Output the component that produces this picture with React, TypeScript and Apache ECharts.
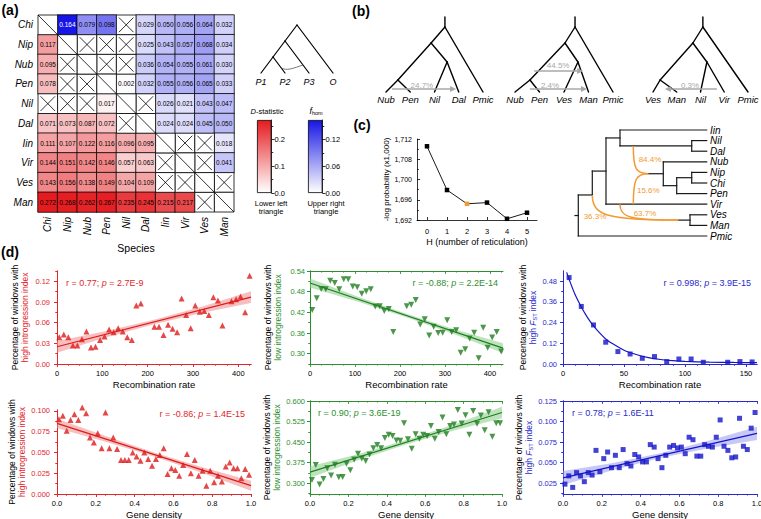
import React, { useEffect, useRef } from 'react';
import * as echarts from 'echarts';

const FONT = '"Liberation Sans", Arial, Helvetica, sans-serif';
const RED = '#e3262b';
const RED_PT = '#dd1a1a';
const GREEN = '#2e8f2e';
const GREEN_PT = '#1f7d1f';
const BLUE = '#2a2acc';
const BLUE_PT = '#1414c8';
const ORANGE = '#f29a33';
const GREY = '#a8a8a8';
const HEAT_RED = '#e51b1f';
const HEAT_BLUE = '#1616e6';

/* ---------------- (a) D-statistic / f_hom matrix ---------------- */
const species = ['Chi', 'Nip', 'Nub', 'Pen', 'Nil', 'Dal', 'Iin', 'Vir', 'Ves', 'Man'];
// rows = species (top to bottom), cols = species (left to right); null = crossed-out cell
const pairValues: (number | null)[][] = [
  [0, 0.164, 0.079, 0.098, null, 0.029, 0.050, 0.056, 0.064, 0.032],
  [0.117, 0, null, null, null, 0.025, 0.043, 0.057, 0.068, 0.034],
  [0.095, null, 0, null, null, 0.036, 0.054, 0.055, 0.061, 0.030],
  [0.078, null, null, 0, 0.002, 0.032, 0.055, 0.056, 0.065, 0.033],
  [null, null, null, 0.017, 0, null, 0.026, 0.021, 0.043, 0.047],
  [0.071, 0.073, 0.087, 0.072, null, 0, 0.024, 0.024, 0.045, 0.050],
  [0.111, 0.107, 0.122, 0.116, 0.096, 0.095, 0, null, null, 0.018],
  [0.144, 0.151, 0.142, 0.146, 0.057, 0.063, null, 0, null, 0.041],
  [0.143, 0.156, 0.138, 0.149, 0.104, 0.109, null, null, 0, null],
  [0.272, 0.268, 0.262, 0.267, 0.235, 0.245, 0.215, 0.217, null, 0],
];
const dStatMax = 0.272;
const fhomMax = 0.164;
const dStatTicks = [0, 0.1, 0.2];
const dStatMinor = [0.05, 0.15, 0.25];
const fhomTicks = [0, 0.06, 0.12];
const fhomMinor = [0.03, 0.09, 0.15];
const quartetLeaves = ['P1', 'P2', 'P3', 'O'];
const quartetTopology: any = [[[0, 1], 2], 3];
const quartetFlow = { from: [0.83, 0.17], to: [1.75, 0.25] };

/* ---------------- (b) species trees with gene flow ---------------- */
const treeLeavesB = [
  ['Nub', 'Pen', 'Nil', 'Dal', 'Pmic'],
  ['Nub', 'Pen', 'Ves', 'Man', 'Pmic'],
  ['Ves', 'Man', 'Nil', 'Vir', 'Pmic'],
];
const treeNodesB = [
  [{ id: 'a', kids: [0, 1], x: 0.49, h: 12 }, { id: 'b', kids: [2, 3], x: 2.52, h: 30 }, { id: 'c', kids: ['a', 'b'], x: 1.86, h: 49 }, { id: 'r', kids: ['c', 4], x: 2.43, h: 65 }],
  [{ id: 'a', kids: [0, 1], x: 0.61, h: 12 }, { id: 'b', kids: [2, 3], x: 2.57, h: 30 }, { id: 'c', kids: ['a', 'b'], x: 2.04, h: 49 }, { id: 'r', kids: ['c', 4], x: 2.45, h: 65 }],
  [{ id: 'a', kids: [0, 1], x: 0.3, h: 12 }, { id: 'b', kids: [2, 3], x: 2.27, h: 30 }, { id: 'c', kids: ['a', 'b'], x: 1.68, h: 49 }, { id: 'r', kids: ['c', 4], x: 2.1, h: 65 }],
];
const treeStemB = 75;
const geneFlowB = [
  [{ from: 0.25, to: 2.89, h: 3, label: '24.7%', lx: 1.48, lh: 7 }],
  [{ from: 0.78, to: 2.78, h: 21, label: '44.5%', lx: 1.76, lh: 27 }, { from: 0.61, to: 2.94, h: 3, label: '2.4%', lx: 1.43, lh: 7 }],
  [{ from: 2.69, to: 0.5, h: 3, label: '0.3%', lx: 1.56, lh: 7 }],
];

/* ---------------- (c) reticulation ---------------- */
const reticulationH = ['0', '1', '2', '3', '4', '5'];
const negLogProb = [1710.2, 1699.4, 1696.0, 1696.3, 1692.3, 1693.8];
const bestH = 2;
const probTickValues = [1692, 1697, 1702, 1707, 1712];
const probTickLabels = ['1,692', '1,696', '1,700', '1,708', '1,712'];
const probMinor = [1694.5, 1699.5, 1704.5, 1709.5];

const netLeaves = ['Iin', 'Nil', 'Dal', 'Nub', 'Nip', 'Chi', 'Pen', 'Vir', 'Ves', 'Man', 'Pmic'];
const netLeafDepth = 131.7;
const netNodes = [
  { id: 'Root', depth: 3.3, row: 8.07, kids: ['N1', 'Pmic'] },
  { id: 'N1', depth: 17.3, row: 6.13, kids: ['N2'] },
  { id: 'N2', depth: 31, row: 3.875, kids: ['N3', 'Vir'] },
  { id: 'N3', depth: 45, row: 0.75, kids: ['Iin', 'NilDal'] },
  { id: 'NilDal', depth: 116.7, row: 1.5, kids: ['Nil', 'Dal'] },
  { id: 'H1', depth: 73.3, row: 4.125, kids: ['C'] },
  { id: 'C', depth: 88.3, row: 4.125, kids: ['Nub', 'D'] },
  { id: 'D', depth: 101.7, row: 5.25, kids: ['NipChi', 'Pen'] },
  { id: 'NipChi', depth: 116.7, row: 4.5, kids: ['Nip', 'Chi'] },
  { id: 'H2', depth: 103.3, row: 8.5, kids: ['VesMan'] },
  { id: 'VesMan', depth: 115, row: 8.5, kids: ['Ves', 'Man'] },
];
const netHybrids = [
  { to: 'H1', depth: 58.3, row: 1.5, label: '84.4%', ld: 75, lr: 2.83 },
  { to: 'H1', depth: 58.3, row: 7, label: '15.6%', ld: 73.3, lr: 5.72 },
  { to: 'H2', depth: 17.3, row: 6.13, label: '36.3%', ld: 20, lr: 8.18 },
  { to: 'H2', depth: 45, row: 7, label: '63.7%', ld: 70, lr: 7.86 },
];

/* ---------------- (d) scatter panels ---------------- */
const recombA = [5, 15, 25, 35, 45, 55, 65, 75, 85, 95, 105, 115, 125, 135, 145, 155, 165, 175, 185, 215, 225, 235, 245, 255, 265, 275, 285, 295, 305, 315, 325, 335, 345, 355, 365, 385, 395, 405, 415, 425];
const highIntroRecomb = [0.039, 0.043, 0.039, 0.027, 0.027, 0.036, 0.047, 0.024, 0.025, 0.035, 0.040, 0.050, 0.046, 0.052, 0.047, 0.039, 0.035, 0.085, 0.088, 0.054, 0.054, 0.042, 0.057, 0.051, 0.046, 0.095, 0.071, 0.052, 0.085, 0.076, 0.077, 0.071, 0.097, 0.092, 0.056, 0.091, 0.094, 0.098, 0.075, 0.128];
const highIntroRecombFitX = [0, 428];
const highIntroRecombFitY = [0.025, 0.097];
const highIntroRecombBandX = [0, 107, 214, 321, 428];
const highIntroRecombBandLo = [0.0165, 0.0385, 0.0578, 0.0745, 0.0885];
const highIntroRecombBandHi = [0.0335, 0.0475, 0.0642, 0.0835, 0.1055];

const recombB = [5, 15, 25, 35, 45, 55, 65, 75, 85, 95, 105, 115, 125, 135, 145, 155, 165, 175, 185, 215, 225, 235, 245, 255, 265, 275, 285, 295, 305, 315, 325, 335, 345, 355, 365, 375, 385, 395, 405, 415, 425];
const lowIntroRecomb = [0.427, 0.461, 0.488, 0.487, 0.512, 0.505, 0.487, 0.516, 0.516, 0.495, 0.493, 0.474, 0.481, 0.487, 0.437, 0.438, 0.424, 0.430, 0.363, 0.438, 0.442, 0.456, 0.385, 0.400, 0.353, 0.378, 0.360, 0.361, 0.397, 0.363, 0.368, 0.303, 0.313, 0.344, 0.361, 0.287, 0.375, 0.317, 0.347, 0.363, 0.306];
const lowIntroRecombFitX = [0, 429];
const lowIntroRecombFitY = [0.505, 0.316];
const lowIntroRecombBandX = [0, 107, 214, 321, 429];
const lowIntroRecombBandLo = [0.492, 0.4509, 0.4057, 0.3566, 0.302];
const lowIntroRecombBandHi = [0.518, 0.4649, 0.4157, 0.3706, 0.330];

const recombC = [5, 15, 25, 35, 45, 55, 65, 75, 85, 95, 105, 115, 135, 145, 155];
const highFstRecomb = [0.50, 0.333, 0.226, 0.126, 0.072, 0.058, 0.033, 0.043, 0.014, 0.029, 0.029, 0.010, 0.010, 0.014, 0.012];
const highFstFitX = [3, 5, 10, 15, 20, 25, 30, 35, 40, 50, 60, 70, 80, 90, 100, 120, 140, 159];
const highFstFitY = [0.53, 0.49, 0.40, 0.33, 0.27, 0.22, 0.18, 0.145, 0.12, 0.08, 0.055, 0.037, 0.026, 0.019, 0.015, 0.011, 0.009, 0.008];

const geneDensity = [0.01, 0.03, 0.05, 0.07, 0.09, 0.11, 0.13, 0.15, 0.17, 0.19, 0.21, 0.23, 0.25, 0.27, 0.29, 0.31, 0.33, 0.35, 0.37, 0.39, 0.41, 0.43, 0.45, 0.47, 0.49, 0.51, 0.53, 0.55, 0.57, 0.59, 0.61, 0.63, 0.65, 0.67, 0.69, 0.71, 0.73, 0.75, 0.77, 0.79, 0.81, 0.83, 0.85, 0.87, 0.89, 0.91, 0.93, 0.95, 0.97, 0.99];
const highIntroGene = [0.090, 0.094, 0.076, 0.089, 0.096, 0.089, 0.104, 0.097, 0.068, 0.062, 0.073, 0.055, 0.098, 0.055, 0.068, 0.054, 0.041, 0.041, 0.041, 0.050, 0.045, 0.040, 0.050, 0.042, 0.034, 0.042, 0.047, 0.055, 0.024, 0.031, 0.029, 0.022, 0.035, 0.048, 0.025, 0.041, 0.022, 0.028, 0.010, 0.028, 0.014, 0.022, 0.015, 0.033, 0.038, 0.031, 0.031, 0.019, 0.030, 0.023];
const highIntroGeneFitX = [0, 1];
const highIntroGeneFitY = [0.085, 0.010];
const highIntroGeneBandX = [0, 0.25, 0.5, 0.75, 1];
const highIntroGeneBandLo = [0.0795, 0.06275, 0.045, 0.02525, 0.004];
const highIntroGeneBandHi = [0.0905, 0.06975, 0.05, 0.03225, 0.016];

const lowIntroGene = [0.312, 0.367, 0.296, 0.316, 0.355, 0.328, 0.368, 0.322, 0.323, 0.371, 0.348, 0.387, 0.408, 0.390, 0.381, 0.405, 0.428, 0.440, 0.428, 0.465, 0.477, 0.472, 0.456, 0.455, 0.519, 0.461, 0.426, 0.479, 0.462, 0.477, 0.472, 0.509, 0.462, 0.487, 0.540, 0.479, 0.509, 0.514, 0.567, 0.518, 0.548, 0.477, 0.564, 0.517, 0.547, 0.493, 0.559, 0.470, 0.519, 0.519];
const lowIntroGeneFitX = [0, 1];
const lowIntroGeneFitY = [0.341, 0.558];
const lowIntroGeneBandX = [0, 0.25, 0.5, 0.75, 1];
const lowIntroGeneBandLo = [0.320, 0.38425, 0.4415, 0.49275, 0.537];
const lowIntroGeneBandHi = [0.362, 0.40625, 0.4575, 0.51475, 0.579];

const highFstGene = [0.024, 0.034, 0.020, 0.038, 0.034, 0.027, 0.038, 0.035, 0.065, 0.039, 0.055, 0.063, 0.044, 0.059, 0.044, 0.066, 0.049, 0.046, 0.060, 0.057, 0.051, 0.051, 0.072, 0.069, 0.055, 0.044, 0.059, 0.069, 0.071, 0.068, 0.069, 0.061, 0.081, 0.078, 0.058, 0.058, 0.072, 0.070, 0.069, 0.081, 0.102, 0.070, 0.065, 0.056, 0.057, 0.104, 0.070, 0.066, 0.092, 0.111];
const highFstGeneFitX = [0, 1];
const highFstGeneFitY = [0.0315, 0.0857];
const highFstGeneBandX = [0, 0.25, 0.5, 0.75, 1];
const highFstGeneBandLo = [0.023, 0.0405, 0.0556, 0.0677, 0.0777];
const highFstGeneBandHi = [0.040, 0.0495, 0.0616, 0.0767, 0.0937];

function tickRange(from: number, to: number, step: number) {
  const out: number[] = [];
  for (let v = from; v <= to + 1e-9; v += step) out.push(+v.toFixed(6));
  return out;
}

function buildOption() {
  const grid: any[] = [];
  const xAxis: any[] = [];
  const yAxis: any[] = [];
  const series: any[] = [];
  const graphic: any[] = [];
  const visualMap: any[] = [];
  const addGrid = (g: any) => { grid.push({ ...g, containLabel: false, outerBoundsMode: 'none' }); return grid.length - 1; };
  const addX = (a: any) => { xAxis.push(a); return xAxis.length - 1; };
  const addY = (a: any) => { yAxis.push(a); return yAxis.length - 1; };
  const addS = (s: any) => { series.push({ silent: true, ...s }); return series.length - 1; };
  const hidden = (g: number, min: number, max: number, extra: any = {}) => ({ type: 'value', gridIndex: g, min, max, show: false, ...extra });
  const txt = (x: number, y: number, text: string, style: any = {}, align = 'center') => {
    graphic.push({
      type: 'text', x, y, silent: true,
      style: { text, fontFamily: FONT, fill: '#000', fontSize: 9, align, textAlign: align, verticalAlign: 'middle', textVerticalAlign: 'middle', ...style },
    });
  };
  const lineRender = (color: string, width: number) => (params: any, api: any) => {
    const a = api.coord([api.value(0), api.value(1)]);
    const b = api.coord([api.value(2), api.value(3)]);
    return { type: 'line', shape: { x1: a[0], y1: a[1], x2: b[0], y2: b[1] }, style: { stroke: color, lineWidth: width, lineCap: 'round' } };
  };

  /* ===== panel labels ===== */
  txt(10, 9.5, '(a)', { fontSize: 14, fontWeight: 'bold' });
  txt(361, 11, '(b)', { fontSize: 14, fontWeight: 'bold' });
  txt(362, 125, '(c)', { fontSize: 14, fontWeight: 'bold' });
  txt(10, 252, '(d)', { fontSize: 14, fontWeight: 'bold' });

  /* ===== (a) heatmap ===== */
  const gH = addGrid({ left: 38, top: 15, width: 196, height: 197 });
  const xH = addX({
    type: 'category', gridIndex: gH, data: species, position: 'bottom',
    axisLine: { show: false }, axisTick: { show: false }, splitLine: { show: false },
    axisLabel: { interval: 0, rotate: 90, fontStyle: 'italic', fontSize: 10, color: '#000', fontFamily: FONT, margin: 5 },
    name: 'Species', nameLocation: 'middle', nameGap: 30, nameTextStyle: { fontSize: 10.5, color: '#000', fontFamily: FONT },
  });
  const yH = addY({
    type: 'category', gridIndex: gH, data: species, inverse: true,
    axisLine: { show: false }, axisTick: { show: false }, splitLine: { show: false },
    axisLabel: { interval: 0, fontStyle: 'italic', fontSize: 10, color: '#000', fontFamily: FONT, margin: 5 },
  });
  const lower: any[] = [];
  const upper: any[] = [];
  const crossed: number[][] = [];
  const diag: number[][] = [];
  pairValues.forEach((row, i) => row.forEach((v, j) => {
    if (i === j) diag.push([j, i]);
    else if (v === null) crossed.push([j, i]);
    else if (j < i) lower.push([j, i, v]);
    else upper.push(v > 0.12 ? { value: [j, i, v], label: { color: '#fff' } } : [j, i, v]);
  }));
  const cellLabel = { show: true, fontSize: 6.5, fontFamily: FONT, color: '#000', formatter: (p: any) => Number(p.value[2]).toFixed(3) };
  const sLower = addS({ type: 'heatmap', xAxisIndex: xH, yAxisIndex: yH, data: lower, label: cellLabel, itemStyle: { borderColor: '#000', borderWidth: 0.8 }, emphasis: { disabled: true } });
  const sUpper = addS({ type: 'heatmap', xAxisIndex: xH, yAxisIndex: yH, data: upper, label: cellLabel, itemStyle: { borderColor: '#000', borderWidth: 0.8 }, emphasis: { disabled: true } });
  visualMap.push({ type: 'continuous', show: false, seriesIndex: sLower, dimension: 2, min: 0, max: dStatMax, inRange: { color: ['#ffffff', HEAT_RED] } });
  visualMap.push({ type: 'continuous', show: false, seriesIndex: sUpper, dimension: 2, min: 0, max: fhomMax, inRange: { color: ['#ffffff', HEAT_BLUE] } });
  const cellRender = (cross: boolean) => (params: any, api: any) => {
    const c = api.coord([api.value(0), api.value(1)]);
    const s = api.size([1, 1]);
    const x0 = c[0] - s[0] / 2, y0 = c[1] - s[1] / 2, x1 = x0 + s[0], y1 = y0 + s[1];
    const m = cross ? 2.5 : 0;
    const children: any[] = [
      { type: 'rect', shape: { x: x0, y: y0, width: s[0], height: s[1] }, style: { fill: '#fff', stroke: '#000', lineWidth: 0.8 } },
      { type: 'line', shape: { x1: x0 + m, y1: y0 + m, x2: x1 - m, y2: y1 - m }, style: { stroke: '#000', lineWidth: 0.8 } },
    ];
    if (cross) children.push({ type: 'line', shape: { x1: x1 - m, y1: y0 + m, x2: x0 + m, y2: y1 - m }, style: { stroke: '#000', lineWidth: 0.8 } });
    return { type: 'group', children };
  };
  addS({ type: 'custom', xAxisIndex: xH, yAxisIndex: yH, data: crossed, renderItem: cellRender(true) });
  addS({ type: 'custom', xAxisIndex: xH, yAxisIndex: yH, data: diag, renderItem: cellRender(false) });

  /* ===== (a) colour bars ===== */
  const colorBar = (left: number, max: number, color: string, major: number[], minor: number[], dec: number) => {
    const g = addGrid({ left, top: 120, width: 14.5, height: 73 });
    const xi = addX({ type: 'category', gridIndex: g, data: [''], show: false });
    const yi = addY({
      type: 'value', gridIndex: g, min: 0, max, position: 'right',
      axisLine: { show: true, lineStyle: { color: '#000', width: 0.8 } },
      axisTick: { show: true, inside: false, length: 3, customValues: major, lineStyle: { color: '#000', width: 0.8 } },
      axisLabel: { customValues: major, formatter: (v: number) => v.toFixed(dec), fontSize: 7.5, color: '#000', fontFamily: FONT, margin: 3 },
      splitLine: { show: false },
    });
    addY({
      type: 'value', gridIndex: g, min: 0, max, position: 'right', axisLine: { show: false },
      axisTick: { show: true, inside: false, length: 1.8, customValues: minor, lineStyle: { color: '#000', width: 0.8 } },
      axisLabel: { show: false }, splitLine: { show: false },
    });
    addS({
      type: 'bar', xAxisIndex: xi, yAxisIndex: yi, data: [max], barWidth: '100%',
      itemStyle: { color: new echarts.graphic.LinearGradient(0, 0, 0, 1, [{ offset: 0, color }, { offset: 1, color: '#ffffff' }]), borderColor: '#000', borderWidth: 0.8 },
    });
  };
  colorBar(257, dStatMax, HEAT_RED, dStatTicks, dStatMinor, 1);
  colorBar(308, fhomMax, HEAT_BLUE, fhomTicks, fhomMinor, 2);
  txt(267, 111, '{i|D}{n|-statistic}', { rich: { i: { fontStyle: 'italic', fontSize: 7.5, fontFamily: FONT, fill: '#000' }, n: { fontSize: 7.5, fontFamily: FONT, fill: '#000' } } });
  txt(316, 111, '{i|f}{s|hom}', { rich: { i: { fontStyle: 'italic', fontSize: 9, fontFamily: FONT, fill: '#000' }, s: { fontSize: 5.5, fontFamily: FONT, fill: '#000', verticalAlign: 'bottom', padding: [4, 0, 0, 0] } } });
  txt(271, 203, 'Lower left', { fontSize: 7.5 });
  txt(271, 211, 'triangle', { fontSize: 7.5 });
  txt(326, 203, 'Upper right', { fontSize: 7.5 });
  txt(326, 211, 'triangle', { fontSize: 7.5 });

  /* ===== (a) quartet tree ===== */
  const gQ = addGrid({ left: 261, top: 25, width: 72, height: 48 });
  const xQ = addX({
    type: 'value', gridIndex: gQ, min: 0, max: 3, axisLine: { show: false }, axisTick: { show: false }, splitLine: { show: false },
    axisLabel: { customValues: [0, 1, 2, 3], formatter: (v: number) => quartetLeaves[Math.round(v)], fontStyle: 'italic', fontSize: 9, color: '#000', fontFamily: FONT, margin: 4 },
  });
  const yQ = addY(hidden(gQ, 0, 1.5));
  const qEdges: number[][] = [];
  const slant = (node: any): any => {
    if (typeof node === 'number') return { x: node, h: 0, lo: node, hi: node };
    const kids = node.map(slant);
    const lo = Math.min(...kids.map((k: any) => k.lo));
    const hi = Math.max(...kids.map((k: any) => k.hi));
    const me = { x: (lo + hi) / 2, h: (hi - lo) / 2, lo, hi };
    kids.forEach((k: any) => qEdges.push([me.x, me.h, k.x, k.h]));
    return me;
  };
  slant(quartetTopology);
  addS({ type: 'custom', xAxisIndex: xQ, yAxisIndex: yQ, data: qEdges, renderItem: lineRender('#000', 1.2) });
  addS({
    type: 'custom', xAxisIndex: xQ, yAxisIndex: yQ, data: [[quartetFlow.from[0], quartetFlow.from[1], quartetFlow.to[0], quartetFlow.to[1]]],
    renderItem: (params: any, api: any) => {
      const a = api.coord([api.value(0), api.value(1)]);
      const b = api.coord([api.value(2), api.value(3)]);
      return { type: 'bezierCurve', shape: { x1: a[0], y1: a[1], x2: b[0], y2: b[1], cpx1: a[0] + 5, cpy1: a[1] + 4, cpx2: b[0] - 9, cpy2: b[1] + 3 }, style: { stroke: '#555', lineWidth: 0.8, fill: null } };
    },
  });

  /* ===== (b) trees ===== */
  const treeBoxes = [
    { left: 386, width: 97 },
    { left: 515, width: 98 },
    { left: 653, width: 95 },
  ];
  treeLeavesB.forEach((leaves, t) => {
    const g = addGrid({ left: treeBoxes[t].left, width: treeBoxes[t].width, top: 17, height: 75 });
    const xi = addX({
      type: 'value', gridIndex: g, min: 0, max: leaves.length - 1, axisLine: { show: false }, axisTick: { show: false }, splitLine: { show: false },
      axisLabel: { customValues: leaves.map((_, i) => i), formatter: (v: number) => leaves[Math.round(v)], fontStyle: 'italic', fontSize: 9.5, color: '#000', fontFamily: FONT, margin: 2 },
    });
    const yi = addY(hidden(g, 0, treeStemB));
    const pos: Record<string, number[]> = {};
    leaves.forEach((_, i) => { pos[String(i)] = [i, 0]; });
    const nodes = treeNodesB[t];
    nodes.forEach((n) => { pos[n.id] = [n.x, n.h]; });
    const edges: number[][] = [];
    nodes.forEach((n) => n.kids.forEach((k) => { const p = pos[String(k)]; edges.push([n.x, n.h, p[0], p[1]]); }));
    const root = nodes[nodes.length - 1];
    edges.push([root.x, root.h, root.x, treeStemB]);
    addS({ type: 'custom', xAxisIndex: xi, yAxisIndex: yi, data: edges, renderItem: lineRender('#000', 1.4) });
    const flows = geneFlowB[t];
    addS({
      type: 'custom', xAxisIndex: xi, yAxisIndex: yi, data: flows.map((f) => [f.from, f.h, f.to, f.h]), z: 5,
      renderItem: (params: any, api: any) => {
        const f = flows[params.dataIndex];
        const a = api.coord([f.from, f.h]);
        const b = api.coord([f.to, f.h]);
        const dir = Math.sign(b[0] - a[0]);
        const l = api.coord([f.lx, f.lh]);
        return {
          type: 'group', children: [
            { type: 'line', shape: { x1: a[0], y1: a[1], x2: b[0] - dir * 4, y2: b[1] }, style: { stroke: GREY, lineWidth: 1.5 } },
            { type: 'polygon', shape: { points: [[b[0], b[1]], [b[0] - dir * 6, b[1] - 3], [b[0] - dir * 6, b[1] + 3]] }, style: { fill: GREY } },
            { type: 'text', x: l[0], y: l[1], style: { text: f.label, fill: GREY, fontSize: 8, fontFamily: FONT, align: 'center', textAlign: 'center', verticalAlign: 'middle', textVerticalAlign: 'middle' } },
          ],
        };
      },
    });
  });

  /* ===== (c) line chart ===== */
  const gC = addGrid({ left: 417, top: 139, width: 120, height: 81 });
  const xC = addX({
    type: 'category', gridIndex: gC, data: reticulationH, boundaryGap: true,
    axisLine: { show: true, lineStyle: { color: '#000', width: 0.8 } },
    axisTick: { show: true, alignWithLabel: true, inside: true, length: 3, lineStyle: { color: '#000', width: 0.8 } },
    axisLabel: { fontSize: 7.5, color: '#000', fontFamily: FONT, margin: 7 },
    name: 'H (number of reticulation)', nameLocation: 'middle', nameGap: 17, nameTextStyle: { fontSize: 9, color: '#000', fontFamily: FONT },
  });
  const yC = addY({
    type: 'value', gridIndex: gC, min: probTickValues[0], max: probTickValues[probTickValues.length - 1], position: 'left',
    axisLine: { show: true, lineStyle: { color: '#000', width: 0.8 } },
    axisTick: { show: true, inside: true, length: 3, customValues: probTickValues, lineStyle: { color: '#000', width: 0.8 } },
    axisLabel: { customValues: probTickValues, formatter: (v: number) => probTickLabels[probTickValues.findIndex((t) => Math.abs(t - v) < 1e-6)] || '', fontSize: 7, color: '#000', fontFamily: FONT, margin: 5 },
    splitLine: { show: false },
    name: '-log probability (x1,000)', nameLocation: 'middle', nameGap: 27, nameTextStyle: { fontSize: 8, color: '#000', fontFamily: FONT },
  });
  addY({
    type: 'value', gridIndex: gC, min: probTickValues[0], max: probTickValues[probTickValues.length - 1], position: 'left', axisLine: { show: false },
    axisTick: { show: true, inside: true, length: 1.8, customValues: probMinor, lineStyle: { color: '#000', width: 0.8 } },
    axisLabel: { show: false }, splitLine: { show: false },
  });
  addS({
    type: 'line', xAxisIndex: xC, yAxisIndex: yC,
    data: negLogProb.map((v, i) => (i === bestH ? { value: v, itemStyle: { color: ORANGE } } : v)),
    symbol: 'rect', symbolSize: 4.5, lineStyle: { color: '#000', width: 0.9 }, itemStyle: { color: '#000' },
  });

  /* ===== (c) network ===== */
  const gN = addGrid({ left: 575, top: 130, width: 132, height: 106 });
  const xN = addX(hidden(gN, 0, 132));
  const yN = addY({
    type: 'value', gridIndex: gN, min: 0, max: netLeaves.length - 1, inverse: true, position: 'right',
    axisLine: { show: false }, axisTick: { show: false }, splitLine: { show: false },
    axisLabel: { customValues: netLeaves.map((_, i) => i), formatter: (v: number) => netLeaves[Math.round(v)], fontStyle: 'italic', fontSize: 10, color: '#000', fontFamily: FONT, margin: 3 },
  });
  const npos: Record<string, { depth: number; row: number }> = {};
  netLeaves.forEach((l, i) => { npos[l] = { depth: netLeafDepth, row: i }; });
  netNodes.forEach((n) => { npos[n.id] = { depth: n.depth, row: n.row }; });
  const segs: number[][] = [];
  netNodes.forEach((n) => {
    const rows = n.kids.map((k) => npos[k].row).concat([n.row]);
    const lo = Math.min(...rows), hi = Math.max(...rows);
    if (hi > lo) segs.push([n.depth, lo, n.depth, hi, 0]);
    n.kids.forEach((k) => segs.push([n.depth, npos[k].row, npos[k].depth, npos[k].row, 0]));
  });
  segs.push([0, netNodes[0].row, netNodes[0].depth, netNodes[0].row, 0]);
  netHybrids.forEach((h) => segs.push([h.depth, h.row, npos[h.to].depth, npos[h.to].row, 1]));
  addS({
    type: 'custom', xAxisIndex: xN, yAxisIndex: yN, data: segs,
    renderItem: (params: any, api: any) => {
      const a = api.coord([api.value(0), api.value(1)]);
      const b = api.coord([api.value(2), api.value(3)]);
      if (api.value(4) === 0) {
        return { type: 'line', shape: { x1: a[0], y1: a[1], x2: b[0], y2: b[1] }, style: { stroke: '#1a1a1a', lineWidth: 1.2, lineCap: 'square' } };
      }
      const dx = b[0] - a[0], dy = b[1] - a[1];
      return { type: 'bezierCurve', z2: 5, shape: { x1: a[0], y1: a[1], x2: b[0], y2: b[1], cpx1: a[0], cpy1: a[1] + dy * 0.85, cpx2: a[0] + dx * 0.2, cpy2: b[1] }, style: { stroke: ORANGE, lineWidth: 1.5, fill: null } };
    },
  });
  addS({
    type: 'custom', xAxisIndex: xN, yAxisIndex: yN, data: netHybrids.map((h) => [h.ld, h.lr]),
    renderItem: (params: any, api: any) => {
      const p = api.coord([api.value(0), api.value(1)]);
      return { type: 'text', x: p[0], y: p[1], style: { text: netHybrids[params.dataIndex].label, fill: ORANGE, fontSize: 8, fontFamily: FONT, align: 'center', textAlign: 'center', verticalAlign: 'middle', textVerticalAlign: 'middle' } };
    },
  });

  /* ===== (d) scatter panels ===== */
  const addPanel = (cfg: any) => {
    const g = addGrid({ left: cfg.left, top: cfg.top, width: cfg.width, height: cfg.height });
    const col = cfg.color;
    const lineOn = { show: true, lineStyle: { color: col, width: 1 } };
    const tick = (vals: number[], inside: boolean, len: number) => ({ show: true, inside, length: len, customValues: vals, lineStyle: { color: col, width: 0.8 } });
    const bx = { type: 'value', gridIndex: g, min: cfg.xRange[0], max: cfg.xRange[1], splitLine: { show: false } };
    const by = { type: 'value', gridIndex: g, min: cfg.yRange[0], max: cfg.yRange[1], splitLine: { show: false } };
    const xi = addX({
      ...bx, position: 'bottom', axisLine: lineOn, axisTick: tick(cfg.xMajor, false, 3),
      axisLabel: { customValues: cfg.xMajor, formatter: (v: number) => v.toFixed(cfg.xDec), fontSize: 7.5, color: '#000', fontFamily: FONT, margin: 5 },
      name: cfg.xName, nameLocation: 'middle', nameGap: 15, nameTextStyle: { fontSize: 9.5, color: '#000', fontFamily: FONT },
    });
    addX({ ...bx, position: 'bottom', axisLine: { show: false }, axisTick: tick(cfg.xMinor, false, 1.6), axisLabel: { show: false } });
    addX({ ...bx, position: 'top', axisLine: lineOn, axisTick: tick(cfg.xMajor, true, 3), axisLabel: { show: false } });
    addX({ ...bx, position: 'top', axisLine: { show: false }, axisTick: tick(cfg.xMinor, true, 1.6), axisLabel: { show: false } });
    const richName = {
      k: { fill: '#000', color: '#000', fontSize: 8.5, fontFamily: FONT, lineHeight: 10 },
      c: { fill: col, color: col, fontSize: 8.5, fontFamily: FONT, lineHeight: 10 },
      ci: { fill: col, color: col, fontSize: 8.5, fontFamily: FONT, fontStyle: 'italic', lineHeight: 10 },
      sub: { fill: col, color: col, fontSize: 5.5, fontFamily: FONT, verticalAlign: 'bottom', lineHeight: 10 },
    };
    const yi = addY({
      ...by, position: 'left', axisLine: lineOn, axisTick: tick(cfg.yMajor, false, 3),
      axisLabel: { customValues: cfg.yMajor, formatter: (v: number) => v.toFixed(cfg.yDec), fontSize: 7.5, color: col, fontFamily: FONT, margin: cfg.yLabelMargin },
      name: cfg.yName, nameLocation: 'middle', nameGap: cfg.yNameGap, nameTextStyle: { fontSize: 8.5, fontFamily: FONT, lineHeight: 10, rich: richName },
    });
    addY({ ...by, position: 'left', axisLine: { show: false }, axisTick: tick(cfg.yMinor, false, 1.6), axisLabel: { show: false } });
    addY({ ...by, position: 'right', axisLine: lineOn, axisTick: tick(cfg.yMajor, true, 3), axisLabel: { show: false } });
    addY({ ...by, position: 'right', axisLine: { show: false }, axisTick: tick(cfg.yMinor, true, 1.6), axisLabel: { show: false } });
    if (cfg.bandX) {
      const bX = cfg.bandX, lo = cfg.bandLo, hi = cfg.bandHi;
      addS({
        type: 'custom', xAxisIndex: xi, yAxisIndex: yi, data: bX.map((x: number, i: number) => [x, lo[i], hi[i]]), z: 1,
        renderItem: (params: any, api: any) => {
          if (params.dataIndex !== 0) return null;
          const top = bX.map((x: number, i: number) => api.coord([x, hi[i]]));
          const bot = bX.map((x: number, i: number) => api.coord([x, lo[i]])).reverse();
          return { type: 'polygon', shape: { points: top.concat(bot) }, style: { fill: cfg.bandColor, opacity: 0.55 } };
        },
      });
    }
    addS({
      type: 'line', xAxisIndex: xi, yAxisIndex: yi, data: cfg.fitX.map((x: number, i: number) => [x, cfg.fitY[i]]),
      showSymbol: false, symbol: 'none', smooth: cfg.smooth ? 0.3 : false, lineStyle: { color: cfg.pointColor, width: 1.2 }, z: 3,
    });
    addS({
      type: 'scatter', xAxisIndex: xi, yAxisIndex: yi, data: cfg.xs.map((x: number, i: number) => [x, cfg.ys[i]]),
      symbol: cfg.symbol, symbolSize: cfg.symbolSize, symbolRotate: cfg.symbolRotate || 0, itemStyle: { color: cfg.pointColor }, clip: false, z: 4,
    });
    txt(cfg.statX, cfg.statY, cfg.stat, {
      fill: col, fontSize: 9,
      rich: { n: { fill: col, fontSize: 9, fontFamily: FONT }, i: { fill: col, fontSize: 9, fontFamily: FONT, fontStyle: 'italic' } },
    }, cfg.statAlign);
  };

  const introName = (c: string) => `{k|Percentage of windows with}\n{c|${c}}`;
  const fstName = '{k|Percentage of windows with}\n{c|high }{ci|F}{sub|ST}{c| index}';

  addPanel({
    left: 57, top: 271, width: 194, height: 93, color: RED, pointColor: RED_PT, bandColor: '#f08a8a',
    xRange: [0, 428], xMajor: [0, 100, 200, 300, 400], xMinor: tickRange(0, 425, 25), xDec: 0,
    yRange: [0, 0.135], yMajor: [0, 0.03, 0.06, 0.09, 0.12], yMinor: tickRange(0, 0.135, 0.015), yDec: 2, yLabelMargin: 7,
    xName: 'Recombination rate', yName: introName('high introgression index'), yNameGap: 27,
    xs: recombA, ys: highIntroRecomb, fitX: highIntroRecombFitX, fitY: highIntroRecombFitY,
    bandX: highIntroRecombBandX, bandLo: highIntroRecombBandLo, bandHi: highIntroRecombBandHi,
    symbol: 'triangle', symbolSize: 6,
    stat: '{n|r = 0.77; }{i|p}{n| = 2.7E-9}', statX: 66, statY: 283, statAlign: 'left',
  });
  addPanel({
    left: 310, top: 271, width: 193, height: 93, color: GREEN, pointColor: GREEN_PT, bandColor: '#86cc86',
    xRange: [0, 429], xMajor: [0, 100, 200, 300, 400], xMinor: tickRange(0, 425, 25), xDec: 0,
    yRange: [0.27, 0.54], yMajor: [0.30, 0.36, 0.42, 0.48, 0.54], yMinor: tickRange(0.27, 0.54, 0.03), yDec: 2, yLabelMargin: 5,
    xName: 'Recombination rate', yName: introName('low introgression index'), yNameGap: 27,
    xs: recombB, ys: lowIntroRecomb, fitX: lowIntroRecombFitX, fitY: lowIntroRecombFitY,
    bandX: lowIntroRecombBandX, bandLo: lowIntroRecombBandLo, bandHi: lowIntroRecombBandHi,
    symbol: 'triangle', symbolRotate: 180, symbolSize: 6,
    stat: '{n|r = -0.88; }{i|p}{n| = 2.2E-14}', statX: 498, statY: 283, statAlign: 'right',
  });
  addPanel({
    left: 563, top: 271, width: 194, height: 93, color: BLUE, pointColor: BLUE_PT, bandColor: '#9a9aee',
    xRange: [0, 159], xMajor: [0, 50, 100, 150], xMinor: tickRange(0, 159, 10), xDec: 0,
    yRange: [0, 0.538], yMajor: [0, 0.12, 0.24, 0.36, 0.48], yMinor: tickRange(0, 0.538, 0.06), yDec: 2, yLabelMargin: 6,
    xName: 'Recombination rate', yName: fstName, yNameGap: 25,
    xs: recombC, ys: highFstRecomb, fitX: highFstFitX, fitY: highFstFitY, smooth: true,
    symbol: 'rect', symbolSize: 5,
    stat: '{n|r = 0.998; }{i|p}{n| = 3.9E-15}', statX: 751, statY: 283, statAlign: 'right',
  });
  addPanel({
    left: 57, top: 410, width: 194, height: 84, color: RED, pointColor: RED_PT, bandColor: '#f08a8a',
    xRange: [0, 1], xMajor: [0, 0.2, 0.4, 0.6, 0.8, 1], xMinor: tickRange(0, 1, 0.05), xDec: 1,
    yRange: [0, 0.101], yMajor: [0, 0.025, 0.05, 0.075, 0.1], yMinor: tickRange(0, 0.1, 0.0125), yDec: 3, yLabelMargin: 7,
    xName: 'Gene density', yName: introName('high introgression index'), yNameGap: 30,
    xs: geneDensity, ys: highIntroGene, fitX: highIntroGeneFitX, fitY: highIntroGeneFitY,
    bandX: highIntroGeneBandX, bandLo: highIntroGeneBandLo, bandHi: highIntroGeneBandHi,
    symbol: 'triangle', symbolSize: 6,
    stat: '{n|r = -0.86; }{i|p}{n| = 1.4E-15}', statX: 245, statY: 414, statAlign: 'right',
  });
  addPanel({
    left: 310, top: 401, width: 192, height: 93, color: GREEN, pointColor: GREEN_PT, bandColor: '#86cc86',
    xRange: [0, 1], xMajor: [0, 0.2, 0.4, 0.6, 0.8, 1], xMinor: tickRange(0, 1, 0.05), xDec: 1,
    yRange: [0.261, 0.6], yMajor: [0.3, 0.375, 0.45, 0.525, 0.6], yMinor: tickRange(0.2625, 0.6, 0.0375), yDec: 3, yLabelMargin: 5,
    xName: 'Gene density', yName: introName('low introgression index'), yNameGap: 28,
    xs: geneDensity, ys: lowIntroGene, fitX: lowIntroGeneFitX, fitY: lowIntroGeneFitY,
    bandX: lowIntroGeneBandX, bandLo: lowIntroGeneBandLo, bandHi: lowIntroGeneBandHi,
    symbol: 'triangle', symbolRotate: 180, symbolSize: 6,
    stat: '{n|r = 0.90; }{i|p}{n| = 3.6E-19}', statX: 318, statY: 413, statAlign: 'left',
  });
  addPanel({
    left: 563, top: 401, width: 194, height: 93, color: BLUE, pointColor: BLUE_PT, bandColor: '#9a9aee',
    xRange: [0, 1], xMajor: [0, 0.2, 0.4, 0.6, 0.8, 1], xMinor: tickRange(0, 1, 0.05), xDec: 1,
    yRange: [0.012, 0.125], yMajor: [0.025, 0.05, 0.075, 0.1, 0.125], yMinor: tickRange(0.0125, 0.125, 0.0125), yDec: 3, yLabelMargin: 6,
    xName: 'Gene density', yName: fstName, yNameGap: 26,
    xs: geneDensity, ys: highFstGene, fitX: highFstGeneFitX, fitY: highFstGeneFitY,
    bandX: highFstGeneBandX, bandLo: highFstGeneBandLo, bandHi: highFstGeneBandHi,
    symbol: 'rect', symbolSize: 5,
    stat: '{n|r = 0.78; }{i|p}{n| = 1.6E-11}', statX: 572, statY: 413, statAlign: 'left',
  });

  return {
    animation: false,
    backgroundColor: '#ffffff',
    textStyle: { fontFamily: FONT },
    grid, xAxis, yAxis, series, visualMap, graphic,
  };
}

export default function App() {
  const ref = useRef<HTMLDivElement>(null);
  useEffect(() => {
    const chart = echarts.init(ref.current!, null, { renderer: 'svg' });
    chart.setOption(buildOption() as any);
    return () => chart.dispose();
  }, []);
  return <div ref={ref} style={{ position: 'fixed', left: 0, top: 0, width: 761, height: 519 }} />;
}
